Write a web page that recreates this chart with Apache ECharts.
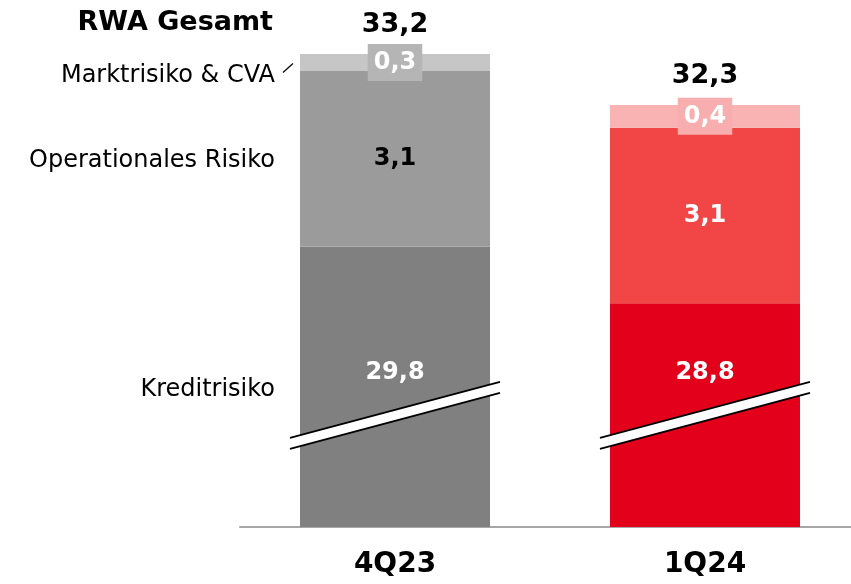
<!DOCTYPE html>
<html>
<head>
<meta charset="utf-8">
<script src="https://cdn.jsdelivr.net/npm/echarts@6/dist/echarts.min.js"></script>
<style>
  html, body { margin: 0; padding: 0; background: #fff; }
  #chart { width: 851px; height: 584px; }
</style>
</head>
<body>
<div id="chart"></div>
<script>
// Daten (Mrd. EUR)
const categories = ["4Q23", "1Q24"];
const seriesNames = ["Kreditrisiko", "Operationales Risiko", "Marktrisiko & CVA"];
const kredit = [29.8, 28.8];
const oprisk = [3.1, 3.1];
const markt = [0.3, 0.4];
const gesamt = [33.2, 32.3];

// Farben je Quartal (grau = Vorquartal, rot = aktuell)
const kreditColors = ["#808080", "#e2001a"];
const opColors = ["#9b9b9b", "#f24646"];
const marktColors = ["#c6c6c6", "#f9b3b3"];
const marktBoxColors = ["#b5b5b5", "#f8aeae"];
const opLabelColors = ["#000", "#fff"];

// abgeschnittene Achse (Achsenbruch)
const AXIS_MIN = 24.85;
const AXIS_MAX = 33.5;
const BREAK_AT = 26.82;
const KREDIT_LABEL_AT = 27.57;

const FONT = "'DejaVu Sans', 'Noto Sans', sans-serif";

const chart = echarts.init(document.getElementById("chart"));

const fmt = (v) => v.toFixed(1).replace(".", ",");

function renderAnno(params, api) {
  const idx = api.value(0);
  const kv = api.value(1);
  const ov = api.value(2);
  const mv = api.value(3);
  const barW = api.size([1, 0])[0] * 0.613;
  const center = api.coord([idx, BREAK_AT]);
  const cx = center[0], cy = center[1];
  const hw = barW / 2 + 10;
  const rise = 28;
  const gap = 5.5;
  const children = [];
  // Bruchmarke
  children.push({
    type: "polygon",
    shape: { points: [
      [cx - hw, cy - gap + rise], [cx + hw, cy - gap - rise],
      [cx + hw, cy + gap - rise], [cx - hw, cy + gap + rise]
    ] },
    style: { fill: "#fff" }
  });
  children.push({
    type: "line",
    shape: { x1: cx - hw, y1: cy - gap + rise, x2: cx + hw, y2: cy - gap - rise },
    style: { stroke: "#000", lineWidth: 2 }
  });
  children.push({
    type: "line",
    shape: { x1: cx - hw, y1: cy + gap + rise, x2: cx + hw, y2: cy + gap - rise },
    style: { stroke: "#000", lineWidth: 2 }
  });
  // Wert Kreditrisiko
  const kp = api.coord([idx, KREDIT_LABEL_AT]);
  children.push({
    type: "text",
    x: kp[0], y: kp[1],
    style: {
      text: fmt(kv), fill: "#fff", font: "bold 24px " + FONT,
      align: "center", verticalAlign: "middle"
    }
  });
  // Beschriftung links (nur erste Säule)
  if (idx === 0) {
    const left = cx - barW / 2;
    const tx = left - 25;
    const yk = api.coord([idx, (AXIS_MIN + kv) / 2])[1];
    const yo = api.coord([idx, kv + ov / 2])[1];
    const ym = api.coord([idx, kv + ov + mv / 2])[1];
    const names = [[seriesNames[0], yk + 3], [seriesNames[1], yo + 2], [seriesNames[2], ym + 13]];
    names.forEach(([t, y]) => {
      children.push({
        type: "text",
        x: tx, y: y,
        style: {
          text: t, fill: "#000", font: "24px " + FONT,
          align: "right", verticalAlign: "middle"
        }
      });
    });
    children.push({
      type: "line",
      shape: { x1: left - 17, y1: ym + 10, x2: left - 7, y2: ym + 1 },
      style: { stroke: "#000", lineWidth: 1.2 }
    });
  }
  return { type: "group", children: children };
}

const option = {
  animation: false,
  textStyle: { fontFamily: FONT },
  title: {
    text: "RWA Gesamt",
    right: 578,
    top: 9,
    padding: 0,
    textStyle: { fontSize: 27, fontWeight: "bold", color: "#000", fontFamily: FONT }
  },
  grid: {
    left: 240, width: 620, top: 37, bottom: 57,
    containLabel: false, outerBoundsMode: "none"
  },
  xAxis: {
    type: "category",
    data: categories,
    axisTick: { show: false },
    axisLine: { lineStyle: { color: "#a6a6a6", width: 2 } },
    axisLabel: { fontSize: 28, fontWeight: "bold", color: "#000", margin: 24, fontFamily: FONT }
  },
  yAxis: {
    type: "value",
    min: AXIS_MIN,
    max: AXIS_MAX,
    show: false,
    splitLine: { show: false }
  },
  series: [
    {
      name: seriesNames[0],
      type: "bar",
      stack: "rwa",
      barWidth: "61.3%",
      data: kredit.map((v, i) => ({ value: v, itemStyle: { color: kreditColors[i] } })),
      label: { show: false }
    },
    {
      name: seriesNames[1],
      type: "bar",
      stack: "rwa",
      data: oprisk.map((v, i) => ({
        value: v,
        itemStyle: { color: opColors[i] },
        label: { color: opLabelColors[i] }
      })),
      label: {
        show: true, position: "inside", fontSize: 24, fontWeight: "bold",
        fontFamily: FONT, formatter: (p) => fmt(p.value)
      }
    },
    {
      name: seriesNames[2],
      type: "bar",
      stack: "rwa",
      data: markt.map((v, i) => ({
        value: v,
        itemStyle: { color: marktColors[i] },
        label: { backgroundColor: marktBoxColors[i] }
      })),
      label: {
        show: true, position: "inside", fontSize: 24, fontWeight: "bold",
        color: "#fff", fontFamily: FONT, padding: [8, 6, 5, 6],
        formatter: (p) => fmt(p.value)
      }
    },
    {
      name: "RWA Gesamt",
      type: "line",
      data: gesamt,
      symbol: "circle",
      symbolSize: 1,
      itemStyle: { color: "transparent" },
      lineStyle: { width: 0, color: "transparent" },
      label: {
        show: true, position: "top", distance: 15, fontSize: 27, fontWeight: "bold",
        color: "#000", fontFamily: FONT, formatter: (p) => fmt(p.value)
      },
      z: 5
    },
    {
      type: "custom",
      renderItem: renderAnno,
      data: categories.map((c, i) => [i, kredit[i], oprisk[i], markt[i]]),
      z: 10,
      silent: true
    }
  ]
};

chart.setOption(option);
</script>
</body>
</html>
